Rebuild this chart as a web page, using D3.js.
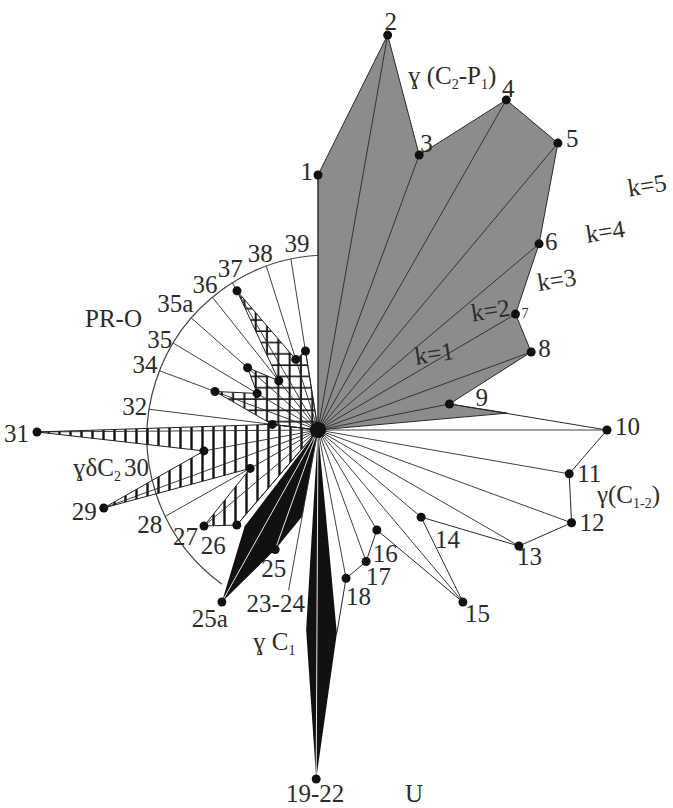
<!DOCTYPE html>
<meta charset="utf-8">
<style>
  body { margin: 0; background: #fff; }
  text { fill: #2b2b2b; }
</style>
<script src="https://d3js.org/d3.v7.min.js"></script>
<svg id="chart"></svg>
<script>

  // vertices of the rose: id, bearing (deg, clockwise from north), length (units)
  var ids = ["1","2","3","4","5","6","7","8","9","9b","10","11","12","13","14","15","16","17","18",
    "19","19-22","22","23-24","25","25a","25b","26","27","28","29","30","31","32",
    "34","35","35a","36","37","38","39"];
  var bearings = [0, 10, 20.2, 29.7, 39.9, 49.9, 59.6, 69.9, 78.8, 84.9, 90, 99.9, 110.1, 120, 130.2, 139.9, 149.5, 159.9, 169.3,
    174.7, 180.3, 183.4, 190.4, 199.7, 209.2, 217.3, 220.5, 229.9, 240.5, 250, 259.6, 269.6, 277,
    290.5, 301, 311.5, 321.5, 329.8, 342.5, 351];
  var lengths = [2.55, 4.01, 2.93, 3.80, 3.74, 2.89, 2.29, 2.27, 1.34, 1.90, 2.89, 2.55, 2.70, 2.32, 1.35, 2.25, 1.16, 1.40, 1.51,
    2.04, 3.49, 2.00, 0.88, 1.27, 1.97, 1.21, 1.25, 1.49, 0.78, 2.28, 1.16, 2.81, 0.46,
    1.10, 0.71, 0.94, 0.63, 1.61, 0.74, 0.80];

  // groups
  var grayIds = ["1","2","3","4","5","6","7","8","9","9b"];
  var spikeIds = ["19","19-22","22"];
  var blackIds = ["23-24","25","25a","25b"];
  var vHatchIds = ["26","27","28","29","30","31","32"];
  var gridIds = ["32","34","35","35a","36","37","38","39"];
  var chainIds = ["9","10","11","12","13","14","15","16","17","18","19"];
  var arcRayIds = ["28","32","34","35","35a","36","37","38","39"];
  var whiteRayIds = ["19-22","25","25a"];
  var cornerIds = ["9b","19","22","23-24","25b"];   // no dot, no label
  var longRay = {"23-24": 1.63};

  var kLevels = [1, 2, 3, 4, 5];
  var kLengths = [1.40, 2.11, 2.83, 3.50, 4.11];
  var kBearings = [57, 55.5, 58, 55.5, 53.5];

  var arcLength = 1.82, arcFrom = 216, arcTo = 360;

  // ---- layout
  var width = 673, height = 808, cx = 318, cy = 430;
  var arcShift = [11, 7];
  var serif = "'Liberation Serif', 'Times New Roman', Times, 'DejaVu Serif', serif";

  var labelPos = {
    "1": ["end",-5,5], "2": ["middle",3,-5], "3": ["start",1,-3], "4": ["middle",2,-3], "5": ["start",8,4],
    "6": ["start",6,6], "7": ["start",6,4], "8": ["start",7,5], "9": ["start",26,2], "10": ["start",8,5],
    "11": ["start",8,8], "12": ["start",8,8], "13": ["start",-2,19], "14": ["start",14,31], "15": ["start",2,20],
    "16": ["start",-4,32], "17": ["start",0,24], "18": ["start",0,27], "19-22": ["middle",-1,23],
    "23-24": ["start",-42,22], "25": ["start",-14,27], "25a": ["middle",-12,25], "26": ["start",-36,29],
    "27": ["start",-31,19], "28": ["end",-3,17], "29": ["end",-7,12], "30": ["start",-80,25], "31": ["end",-8,10],
    "32": ["end",-2,6], "34": ["end",-2,2], "35": ["end",-1,5], "35a": ["end",2,-6], "36": ["end",5,-4],
    "37": ["middle",-2,-6], "38": ["middle",-6,-4], "39": ["middle",6,-7]
  };

  var r = d3.scaleLinear().domain([0, 1]).range([0, 100]);
  var rad = function(d) { return d * Math.PI / 180; };

  var pos = {};
  ids.forEach(function(id, i) { pos[id] = d3.pointRadial(rad(bearings[i]), r(lengths[i])); });

  function arcEnd(b) {
    var u = [Math.sin(rad(b)), -Math.cos(rad(b))];
    var R = r(arcLength);
    var uo = u[0] * arcShift[0] + u[1] * arcShift[1];
    var t = uo + Math.sqrt(uo * uo - (arcShift[0] * arcShift[0] + arcShift[1] * arcShift[1]) + R * R);
    return [u[0] * t, u[1] * t];
  }

  // where a ray ends: on the arc, past the vertex, or at the vertex
  function rayEnd(id) {
    var b = bearings[ids.indexOf(id)];
    if (arcRayIds.indexOf(id) >= 0) return arcEnd(b);
    if (longRay[id]) return d3.pointRadial(rad(b), r(longRay[id]));
    return pos[id];
  }

  var svg = d3.select("#chart").attr("width", width).attr("height", height)
    .attr("font-family", serif);

  var defs = svg.append("defs");
  var vh = defs.append("pattern").attr("id", "vh").attr("patternUnits", "userSpaceOnUse")
    .attr("width", 11).attr("height", 11);
  vh.append("line").attr("x1", 5.5).attr("x2", 5.5).attr("y1", 0).attr("y2", 11)
    .attr("stroke", "#111").attr("stroke-width", 2.4);
  var gp = defs.append("pattern").attr("id", "grid").attr("patternUnits", "userSpaceOnUse")
    .attr("width", 11.3).attr("height", 11.3);
  gp.append("line").attr("x1", 5.5).attr("x2", 5.5).attr("y1", 0).attr("y2", 11.3)
    .attr("stroke", "#151515").attr("stroke-width", 2);
  gp.append("line").attr("x1", 0).attr("x2", 11.3).attr("y1", 3).attr("y2", 3)
    .attr("stroke", "#151515").attr("stroke-width", 1.6);

  var g = svg.append("g").attr("transform", "translate(" + cx + "," + cy + ")");

  var line = d3.line();
  function poly(list) { return line([[0, 0]].concat(list.map(function(id) { return pos[id]; }))) + "Z"; }

  // reference arc
  var ap = d3.path();
  ap.arc(arcShift[0], arcShift[1], r(arcLength), rad(arcFrom - 90), rad(arcTo - 90));
  g.append("path").attr("d", ap.toString()).attr("fill", "none").attr("stroke", "#444").attr("stroke-width", 1.2);

  // fills
  g.append("path").attr("d", poly(vHatchIds)).attr("fill", "url(#vh)");
  g.append("path").attr("d", poly(gridIds)).attr("fill", "url(#grid)");
  g.append("path").attr("d", poly(grayIds)).attr("fill", "#8c8c8c");
  g.append("path").attr("d", poly(spikeIds)).attr("fill", "#111");
  g.append("path").attr("d", poly(blackIds)).attr("fill", "#111");

  // rays
  var rayIds = ids.filter(function(id) { return ["9b","19","22","25b"].indexOf(id) < 0; });
  g.selectAll(".ray").data(rayIds).enter().append("line")
    .attr("class", "ray")
    .attr("x1", 0).attr("y1", 0)
    .attr("x2", function(id) { return rayEnd(id)[0]; })
    .attr("y2", function(id) { return rayEnd(id)[1]; })
    .attr("stroke", function(id) { return whiteRayIds.indexOf(id) >= 0 ? "#e8e8e8" : "#2a2a2a"; })
    .attr("stroke-width", function(id) { return whiteRayIds.indexOf(id) >= 0 ? 1 : 0.9; });

  // outlines
  g.append("path").attr("d", poly(grayIds)).attr("fill", "none").attr("stroke", "#2a2a2a").attr("stroke-width", 1);
  g.append("path").attr("d", poly(vHatchIds)).attr("fill", "none").attr("stroke", "#222").attr("stroke-width", 1);
  g.append("path").attr("d", poly(gridIds)).attr("fill", "none").attr("stroke", "#222").attr("stroke-width", 1);
  g.append("path").attr("d", line(chainIds.map(function(id) { return pos[id]; })))
    .attr("fill", "none").attr("stroke", "#2a2a2a").attr("stroke-width", 1);

  // dots
  var dotIds = ids.filter(function(id) { return cornerIds.indexOf(id) < 0; });
  g.selectAll(".dot").data(dotIds).enter().append("circle")
    .attr("class", "dot")
    .attr("cx", function(id) { return pos[id][0]; })
    .attr("cy", function(id) { return pos[id][1]; })
    .attr("r", 4.5).attr("fill", "#111");
  g.append("circle").attr("r", 8).attr("fill", "#111");

  // point labels
  var labelIds = dotIds.concat(["23-24"]);
  g.selectAll(".lbl").data(labelIds).enter().append("text")
    .attr("class", "lbl")
    .attr("font-family", serif)
    .attr("text-anchor", function(id) { return labelPos[id][0]; })
    .attr("x", function(id) {
      var base = arcRayIds.indexOf(id) >= 0 || longRay[id] ? rayEnd(id) : pos[id];
      return base[0] + labelPos[id][1];
    })
    .attr("y", function(id) {
      var base = arcRayIds.indexOf(id) >= 0 || longRay[id] ? rayEnd(id) : pos[id];
      return base[1] + labelPos[id][2];
    })
    .attr("font-size", function(id) { return id === "7" ? 14 : 25; })
    .text(function(d) { return d; });

  // k levels
  g.selectAll(".k").data(kLevels).enter().append("text")
    .attr("class", "k")
    .attr("font-family", serif)
    .attr("text-anchor", "middle")
    .attr("transform", function(d, i) {
      var p = d3.pointRadial(rad(kBearings[i]), r(kLengths[i]));
      return "translate(" + p[0] + "," + (p[1] + 8) + ") rotate(-9)";
    })
    .attr("font-size", 25)
    .text(function(d) { return "k=" + d; });

  // group names
  var notes = [
    {x: 408, y: 84, parts: [["ɣ (C"], ["2", 1], ["-P"], ["1", 1], [")"]]},
    {x: 597, y: 503, parts: [["γ(C"], ["1-2", 1], [")"]]},
    {x: 253, y: 650, parts: [["ɣ C"], ["1", 1]]},
    {x: 73, y: 476, parts: [["ɣδC"], ["2", 1]]},
    {x: 85, y: 327, parts: [["PR-O"]]},
    {x: 405, y: 802, parts: [["U"]]}
  ];
  notes.forEach(function(n) {
    var t = svg.append("text").attr("x", n.x).attr("y", n.y)
      .attr("font-family", serif).attr("font-size", 25);
    var low = false;
    n.parts.forEach(function(p) {
      var s = t.append("tspan").text(p[0]);
      if (p[1] && !low) { s.attr("dy", 5).attr("font-size", 14); low = true; }
      else if (!p[1] && low) { s.attr("dy", -5); low = false; }
    });
  });

</script>
